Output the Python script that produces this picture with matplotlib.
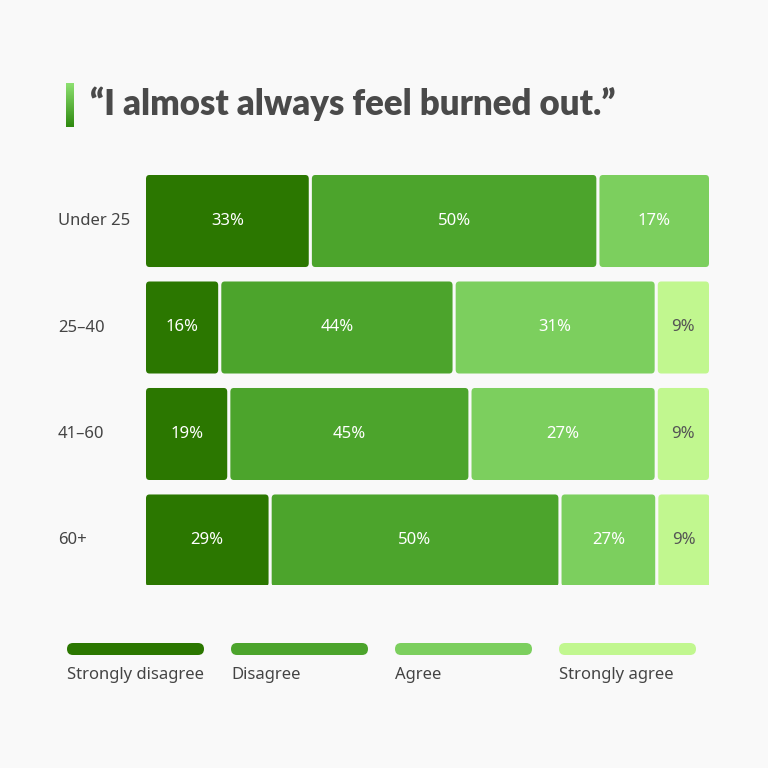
import matplotlib.pyplot as plt
from matplotlib.patches import FancyBboxPatch
import numpy as np

plt.rcParams['font.family'] = ['Noto Sans', 'DejaVu Sans']

groups = ["Under 25", "25\u201340", "41\u201360", "60+"]
# segment widths as drawn in the picture (share of the full bar)
widths = [
    [29.3, 50.8, 19.9],
    [13.3, 41.4, 35.7, 9.6],
    [14.9, 42.6, 32.9, 9.6],
    [22.2, 51.2, 17.1, 9.6],
]
# labels printed on the segments
labels = [
    ["33%", "50%", "17%"],
    ["16%", "44%", "31%", "9%"],
    ["19%", "45%", "27%", "9%"],
    ["29%", "50%", "27%", "9%"],
]
categories = ["Strongly disagree", "Disagree", "Agree", "Strongly agree"]
colors = ["#2b7700", "#4ca42c", "#7ccf5e", "#c1f78f"]
text_colors = ["white", "white", "white", "#555555"]

bg = "#f9f9f9"
fig = plt.figure(figsize=(7.68, 7.68), dpi=100, facecolor=bg)
W = H = 768.0

# axes in pixel layout: x 146..709, y 175..585, row pitch 106.5 px
gap = 0.55
ax = fig.add_axes([146 / W, 1 - 585 / H, 563 / W, 410 / H])
ax.set_facecolor(bg)
ax.set_xlim(0, 100 - gap)
ax.set_ylim(3.418, -0.432)
ax.axis('off')

for i, (ws, ls) in enumerate(zip(widths, labels)):
    left = 0
    for j, (w, lab) in enumerate(zip(ws, ls)):
        box = FancyBboxPatch((left, i - 0.432), w - gap, 0.864,
                             boxstyle="round,pad=0,rounding_size=0.6",
                             mutation_aspect=0.06,
                             facecolor=colors[j], edgecolor='none')
        ax.add_patch(box)
        ax.text(left + (w - gap) / 2, i, lab, ha='center', va='center',
                fontsize=12, color=text_colors[j])
        left += w
    fig.text(58 / W, 1 - (221 + i * 106.5) / H, groups[i], ha='left',
             va='center', fontsize=12, color='#444444')

# title with small gradient mark
mark = fig.add_axes([66 / W, 1 - 127 / H, 8 / W, 44 / H])
mark.imshow(np.linspace(0, 1, 50).reshape(-1, 1), aspect='auto',
            cmap=plt.matplotlib.colors.LinearSegmentedColormap.from_list(
                'g', ["#8de070", "#2f8a10"]))
mark.axis('off')
fig.text(90 / W, 1 - 104 / H, "\u201cI almost always feel burned out.\u201d",
         ha='left', va='center', fontsize=25, fontweight='heavy',
         family=['Lato', 'DejaVu Sans'], color='#4a4a4a')

# legend
for k, (cat, c) in enumerate(zip(categories, colors)):
    x0 = 67 + k * 164
    la = fig.add_axes([x0 / W, 1 - 655 / H, 137 / W, 12 / H])
    la.set_xlim(0, 137)
    la.set_ylim(0, 12)
    la.axis('off')
    la.add_patch(FancyBboxPatch((0, 0), 137, 12,
                                boxstyle="round,pad=0,rounding_size=6",
                                facecolor=c, edgecolor='none'))
    fig.text(x0 / W, 1 - 675 / H, cat, ha='left', va='center',
             fontsize=12, color='#444444')

fig.savefig("out.png", dpi=100, facecolor=bg)
